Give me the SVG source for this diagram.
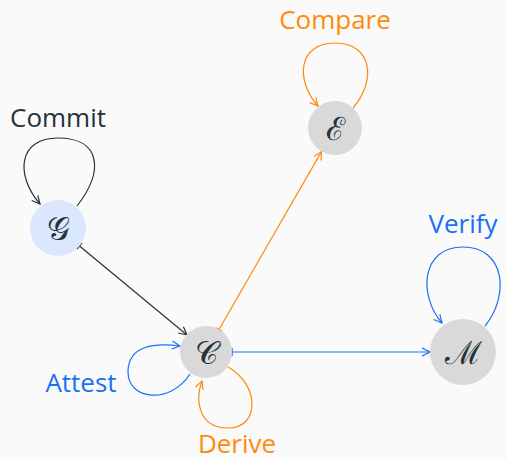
<svg xmlns="http://www.w3.org/2000/svg" width="507" height="460" viewBox="0 0 507 460">
  <defs>
    <style>
      .bg { fill: #fafafa; }
      .node { fill: #d9d9d9; }
      .node.start { fill: #dbe7fd; }
      .sym { font-family: "DejaVu Serif", "Liberation Serif", serif; font-size: 32px; fill: #263238; text-anchor: middle; dominant-baseline: central; }
      .lbl { font-family: "Open Sans", "Noto Sans", sans-serif; font-size: 26px; text-anchor: middle; }
      .edge { fill: none; stroke-width: 1.2; }
      .dark { stroke: #263238; }
      .orange { stroke: #ff8a0d; }
      .blue { stroke: #1a6ff5; }
    </style>
    <marker id="arr-dark" viewBox="0 0 10 10" refX="9" refY="5" markerWidth="10" markerHeight="10" markerUnits="userSpaceOnUse" orient="auto">
      <path d="M1,1 L9,5 L1,9" fill="none" stroke="#263238" stroke-width="1.2"/>
    </marker>
    <marker id="arr-orange" viewBox="0 0 10 10" refX="9" refY="5" markerWidth="10" markerHeight="10" markerUnits="userSpaceOnUse" orient="auto">
      <path d="M1,1 L9,5 L1,9" fill="none" stroke="#ff8a0d" stroke-width="1.2"/>
    </marker>
    <marker id="arr-blue" viewBox="0 0 10 10" refX="9" refY="5" markerWidth="10" markerHeight="10" markerUnits="userSpaceOnUse" orient="auto">
      <path d="M1,1 L9,5 L1,9" fill="none" stroke="#1a6ff5" stroke-width="1.2"/>
    </marker>
    <marker id="tee-dark" viewBox="0 0 10 10" refX="1" refY="5" markerWidth="10" markerHeight="10" markerUnits="userSpaceOnUse" orient="auto">
      <path d="M1,1 L1,9" fill="none" stroke="#263238" stroke-width="1.4"/>
    </marker>
    <marker id="tee-orange" viewBox="0 0 10 10" refX="1" refY="5" markerWidth="10" markerHeight="10" markerUnits="userSpaceOnUse" orient="auto">
      <path d="M1,1 L1,9" fill="none" stroke="#ff8a0d" stroke-width="1.4"/>
    </marker>
    <marker id="tee-blue" viewBox="0 0 10 10" refX="1" refY="5" markerWidth="10" markerHeight="10" markerUnits="userSpaceOnUse" orient="auto">
      <path d="M1,1 L1,9" fill="none" stroke="#1a6ff5" stroke-width="1.4"/>
    </marker>
  </defs>

  <rect class="bg" x="0" y="0" width="507" height="460"/>

  <!-- connectors -->
  <g id="edges">
    <path class="edge dark" d="M79.5,246 L187,335" marker-start="url(#tee-dark)" marker-end="url(#arr-dark)"/>
    <path class="edge orange" d="M219,329.5 L321.5,151.6" marker-start="url(#tee-orange)" marker-end="url(#arr-orange)"/>
    <path class="edge blue" d="M232,352 L430,352" marker-start="url(#tee-blue)" marker-end="url(#arr-blue)"/>
    <!-- self loops -->
    <path class="edge dark" d="M77,206 C105,170 100,138 58,138 C18,138 15,175 40,204" marker-end="url(#arr-dark)"/>
    <path class="edge orange" d="M353,108 C377,80 372,43 335,43 C298,43 295,80 318,106" marker-end="url(#arr-orange)"/>
    <path class="edge blue" d="M485,326 C510,295 505,247 463,247 C421,247 418,295 442,323" marker-end="url(#arr-blue)"/>
    <path class="edge blue" d="M190,374 C170,405 128,400 128,372 C128,345 155,343 180,346" marker-end="url(#arr-blue)"/>
    <path class="edge orange" d="M228,367 C260,385 260,428 228,428 C198,428 195,400 202,381" marker-end="url(#arr-orange)"/>
  </g>

  <!-- nodes -->
  <g id="node-G">
    <circle class="node start" cx="58" cy="228" r="28"/>
    <text class="sym" x="58" y="229">𝒢</text>
  </g>
  <g id="node-C">
    <circle class="node" cx="206" cy="352" r="26"/>
    <text class="sym" x="206" y="353">𝒞</text>
  </g>
  <g id="node-E">
    <circle class="node" cx="335" cy="128" r="27"/>
    <text class="sym" x="335" y="129">ℰ</text>
  </g>
  <g id="node-M">
    <circle class="node" cx="463" cy="352" r="33"/>
    <text class="sym" x="463" y="353">ℳ</text>
  </g>

  <!-- loop labels -->
  <g id="labels">
    <text class="lbl" x="58" y="127" fill="#263238">Commit</text>
    <text class="lbl" x="335" y="29" fill="#ff8a0d">Compare</text>
    <text class="lbl" x="463" y="233" fill="#1a6ff5">Verify</text>
    <text class="lbl" x="81" y="392" fill="#1a6ff5">Attest</text>
    <text class="lbl" x="237" y="453" fill="#ff8a0d">Derive</text>
  </g>
</svg>
